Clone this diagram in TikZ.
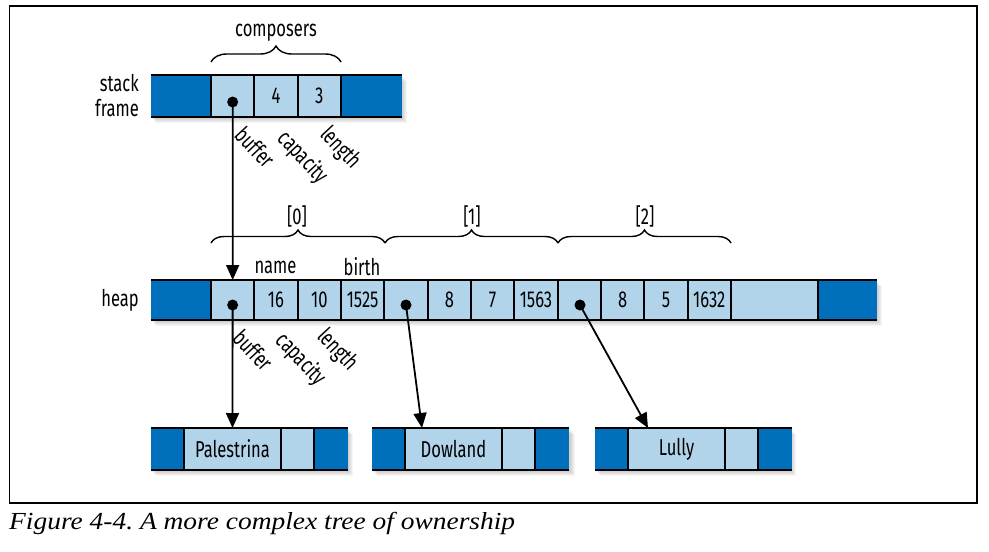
\documentclass[tikz,border=0pt]{standalone}
\usepackage{fontspec}
\setmainfont[FakeStretch=0.72]{Fira Sans}
\newfontfamily\capfont[FakeStretch=1.12]{Liberation Serif}
\usetikzlibrary{arrows.meta,decorations.pathreplacing,calc}
\definecolor{dkblue}{RGB}{0,112,188}
\definecolor{ltblue}{RGB}{178,212,234}
\begin{document}
\begin{tikzpicture}[x=1pt,y=-1pt,
  txt/.style={font=\fontsize{23}{25}\selectfont, inner sep=0pt},
  cell/.style={draw=black, line width=1.8pt, fill=ltblue, inner sep=0pt, outer sep=0pt, font=\fontsize{23}{25}\selectfont},
  dk/.style={fill=dkblue, draw=none, inner sep=0pt, outer sep=0pt},
  rowline/.style={line width=2.6pt},
  ptr/.style={line width=1.8pt, -{Triangle[length=15pt,width=13pt]}},
  dot/.style={circle, fill=black, inner sep=0pt, minimum size=11pt},
  brc/.style={decorate, decoration={brace, amplitude=#1}, line width=1.4pt},
  rot/.style={txt, rotate=-47, anchor=north west}]
\useasboundingbox (0,0) rectangle (989,552);
% frame
\draw[line width=1.4pt] (9.5,6) rectangle (977,503);
% shadows
\foreach \k in {1,...,5} {
  \fill[black, opacity=0.04] (151+\k,75+\k+1) rectangle (402+\k,117+\k+1);
  \fill[black, opacity=0.04] (151+\k,280+\k+1) rectangle (877+\k,320+\k+1);
  \fill[black, opacity=0.04] (151+\k,428+\k+1) rectangle (348+\k,470+\k+1);
  \fill[black, opacity=0.04] (372+\k,428+\k+1) rectangle (570+\k,470+\k+1);
  \fill[black, opacity=0.04] (595+\k,428+\k+1) rectangle (791+\k,470+\k+1);
}
% stack frame row
\node[dk, minimum width=60pt, minimum height=42pt] (s0) at (181,96) {};
\node[dk, minimum width=61pt, minimum height=42pt] (s4) at (371.5,96) {};
\node[cell, minimum width=43.3pt, minimum height=42pt] (s1) at (232.65,96) {};
\node[cell, minimum width=43.3pt, minimum height=42pt] (s2) at (275.95,96) {4};
\node[cell, minimum width=43.3pt, minimum height=42pt] (s3) at (319.25,96) {3};
\draw[rowline] (s0.north west) -- (s4.north east);
\draw[rowline] (s0.south west) -- (s4.south east);
\node[txt, anchor=east, align=right] (sflbl) at (139,96) {stack\\frame};
% composers brace
\draw[brc=16pt] (211,62) -- (341,62);
\node[txt] (comp) at (276,33) {composers};
\node[rot] (sbuf) at (246,124) {buffer};
\node[rot] (scap) at (290,127) {capacity};
\node[rot] (slen) at (332,123) {length};
% heap row
\node[dk, minimum width=60pt, minimum height=40pt] (h00) at (181,300) {};
\node[dk, minimum width=59pt, minimum height=40pt] (hend) at (847.5,300) {};
\foreach \i/\t in {0/{},1/16,2/10,3/1525,4/{},5/8,6/7,7/1563,8/{},9/8,10/5,11/1632}
  \node[cell, minimum width=43.33pt, minimum height=40pt] (h\i) at ({211+43.33*(\i+0.5)},300) {\t};
\node[cell, minimum width=87pt, minimum height=40pt] (hspare) at (774.5,300) {};
\draw[rowline] (h00.north west) -- (hend.north east);
\draw[rowline] (h00.south west) -- (hend.south east);
\node[txt, anchor=east] (heaplbl) at (139,300) {heap};
% heap braces
\draw[brc=13pt] (211,243) -- (385,243);
\draw[brc=13pt] (385,243) -- (558,243);
\draw[brc=13pt] (558,243) -- (731,243);
\node[txt] (i0) at (297,216) {[0]};
\node[txt] (i1) at (472,216) {[1]};
\node[txt] (i2) at (645,216) {[2]};
\node[txt] (nm) at (275.5,267) {name};
\node[txt] (bi) at (362,267) {birth};
\node[rot] (hbuf) at (244,327) {buffer};
\node[rot] (hcap) at (288,329) {capacity};
\node[rot] (hlen) at (329,325) {length};
% string buffers
\foreach \n/\x/\t in {p/151/Palestrina, d/372/Dowland, l/595/Lully} {
  \node[dk, minimum width=33pt, minimum height=42pt] (\n0) at (\x+16.5,449) {};
  \node[dk, minimum width=34pt, minimum height=42pt] (\n3) at (\x+180,449) {};
  \node[cell, minimum width=97pt, minimum height=42pt] (\n1) at (\x+81.5,449) {\t};
  \node[cell, minimum width=33pt, minimum height=42pt] (\n2) at (\x+146.5,449) {};
  \draw[rowline] (\n0.north west) -- (\n3.north east);
  \draw[rowline] (\n0.south west) -- (\n3.south east);
}
% pointers
\node[dot] (sd) at (232.65,102) {};
\node[dot] (hd0) at (232.65,305) {};
\node[dot] (hd1) at (406,305) {};
\node[dot] (hd2) at (580,305) {};
\coordinate (dtip) at ($(d1.north west)+(17,0)$);
\coordinate (ltip) at ($(l1.north west)+(20,0)$);
\draw[ptr] (sd.center) -- (h0.north);
\draw[ptr] (hd0.center) -- (p1.north);
\draw[ptr] (hd1.center) -- (dtip);
\draw[ptr] (hd2.center) -- (ltip);
% caption
\node[anchor=base west, inner sep=0pt, font=\capfont\itshape\fontsize{24.5}{28}\selectfont] (cap) at (9,529) {Figure 4-4.\ A more complex tree of ownership};
\end{tikzpicture}
\end{document}
